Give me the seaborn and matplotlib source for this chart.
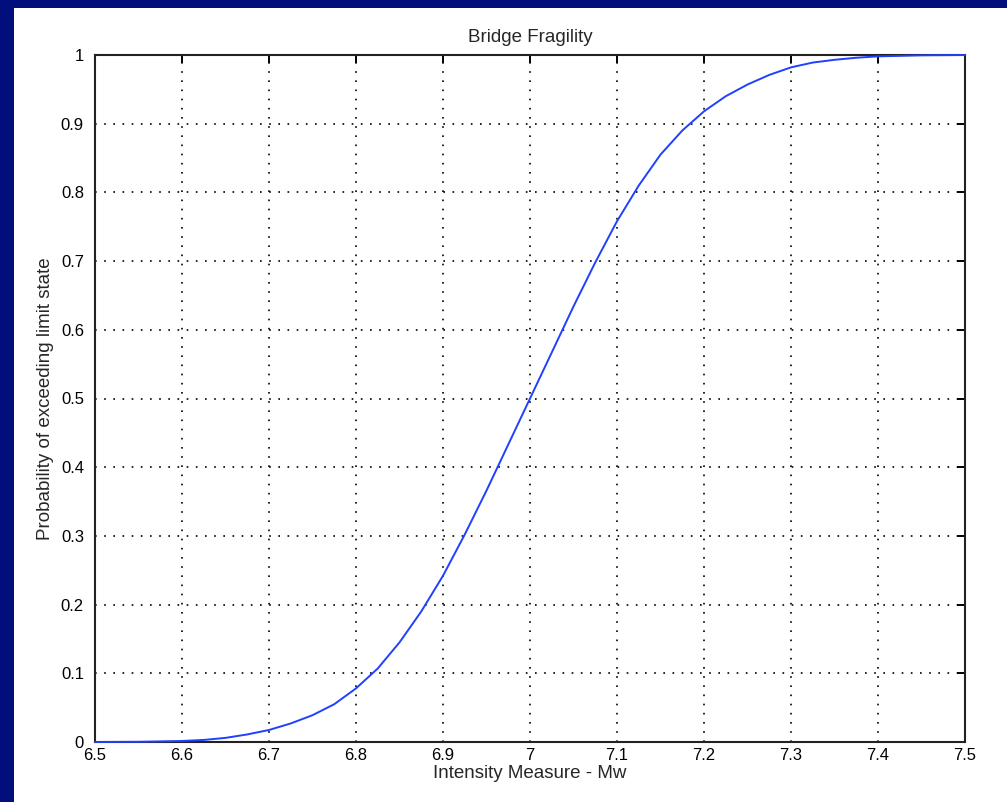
import numpy as np
import matplotlib
matplotlib.use("Agg")
import matplotlib.pyplot as plt
import seaborn as sns
import pandas as pd
from matplotlib.patches import Rectangle

# values
intensity_mw = [6.500, 6.550, 6.600, 6.625, 6.650, 6.675, 6.700, 6.725, 6.750, 6.775,
                6.800, 6.825, 6.850, 6.875, 6.900, 6.925, 6.950, 6.975, 7.000, 7.025,
                7.050, 7.075, 7.100, 7.125, 7.150, 7.175, 7.200, 7.225, 7.250, 7.275,
                7.300, 7.325, 7.350, 7.375, 7.400, 7.450, 7.500]
prob_exceed = [0.0, 0.0003, 0.0015, 0.003, 0.006, 0.011, 0.0175, 0.027, 0.039, 0.055,
               0.078, 0.107, 0.145, 0.190, 0.242, 0.302, 0.366, 0.433, 0.500, 0.567,
               0.634, 0.698, 0.758, 0.810, 0.855, 0.890, 0.918, 0.940, 0.957, 0.971,
               0.982, 0.989, 0.993, 0.996, 0.998, 0.9995, 1.0]
x_ticks = [6.5, 6.6, 6.7, 6.8, 6.9, 7.0, 7.1, 7.2, 7.3, 7.4, 7.5]
x_tick_labels = ["6.5", "6.6", "6.7", "6.8", "6.9", "7", "7.1", "7.2", "7.3", "7.4", "7.5"]
y_ticks = [0, 0.1, 0.2, 0.3, 0.4, 0.5, 0.6, 0.7, 0.8, 0.9, 1.0]
y_tick_labels = ["0", "0.1", "0.2", "0.3", "0.4", "0.5", "0.6", "0.7", "0.8", "0.9", "1"]

df = pd.DataFrame({"Mw": intensity_mw, "P": prob_exceed})

sns.set_style("white")
plt.rcParams['font.family'] = ['Liberation Sans', 'DejaVu Sans']

fig = plt.figure(figsize=(10.07, 8.02), dpi=100, facecolor="#020E7C")
fig.patches.append(Rectangle((14 / 1007, 0), 1 - 14 / 1007, (802 - 8) / 802,
                             transform=fig.transFigure, facecolor="white",
                             edgecolor="none", zorder=-10))

ax = fig.add_axes([95 / 1007, 60 / 802, 870 / 1007, 687 / 802])
ax.set_facecolor("white")
sns.lineplot(data=df, x="Mw", y="P", ax=ax, color="#2040ff", linewidth=1.4,
             clip_on=False, zorder=5)

ax.set_xlim(6.5, 7.5)
ax.set_ylim(0, 1)
ax.set_xticks(x_ticks)
ax.set_xticklabels(x_tick_labels)
ax.set_yticks(y_ticks)
ax.set_yticklabels(y_tick_labels)
ax.grid(True, color="black", linestyle=(0, (1, 4.5)), linewidth=1.2)
ax.tick_params(direction="in", length=6, width=1.4, colors="black",
               labelsize=12, top=True, right=True)
ax.tick_params(axis="x", pad=4)
ax.tick_params(axis="y", pad=8)
for s in ax.spines.values():
    s.set_visible(True)
    s.set_color("#222222")
    s.set_linewidth(1.5)

ax.set_title("Bridge Fragility", fontsize=13.5, pad=9)
ax.set_xlabel("Intensity Measure - Mw", fontsize=13.5, labelpad=2)
ax.set_ylabel("Probability of exceeding limit state", fontsize=13.5, labelpad=5)

fig.savefig("out.png", dpi=100, facecolor=fig.get_facecolor())
